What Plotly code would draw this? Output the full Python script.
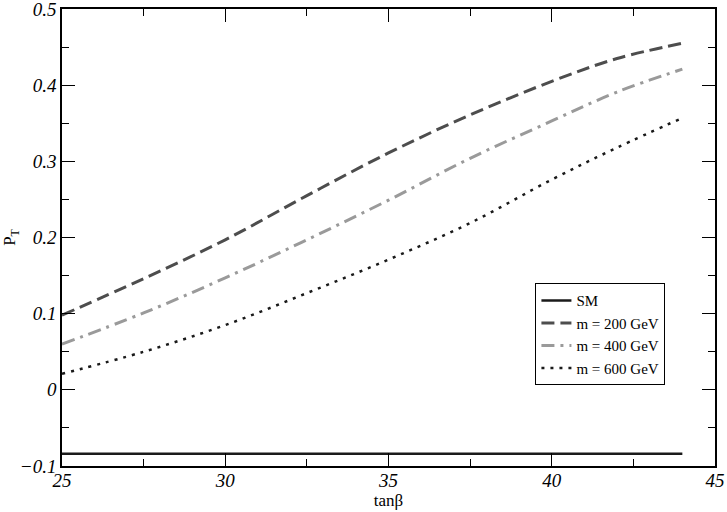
import plotly.graph_objects as go

# tan(beta) sample points
tanb = [25, 27.5, 30, 32.5, 35, 37.5, 40, 42, 44]

# P_T values
pt_sm = [-0.084] * len(tanb)
pt_m200 = [0.098, 0.146, 0.197, 0.255, 0.311, 0.361, 0.405, 0.435, 0.455]
pt_m400 = [0.060, 0.101, 0.147, 0.197, 0.249, 0.304, 0.353, 0.391, 0.421]
pt_m600 = [0.021, 0.050, 0.085, 0.127, 0.171, 0.219, 0.276, 0.318, 0.357]

series = [
    ("SM", pt_sm, "#1a1a1a", "solid", 2.5),
    ("m = 200 GeV", pt_m200, "#4d4d4d", "13px,6px", 3),
    ("m = 400 GeV", pt_m400, "#9a9a9a", "13px,6px,3px,6px", 3),
    ("m = 600 GeV", pt_m600, "#1a1a1a", "3px,6px", 2.5),
]

serif = "Liberation Serif"

fig = go.Figure()
for name, ys, color, dash, width in series:
    fig.add_trace(go.Scatter(x=tanb, y=ys, mode="lines", name=name,
                             line=dict(color=color, dash=dash, width=width, shape="spline")))

axis_style = dict(
    showline=True, linecolor="black", linewidth=1.5, mirror="ticks",
    ticks="inside", ticklen=13, tickwidth=1, tickcolor="black",
    showgrid=False, zeroline=False, automargin=False, ticklabeloverflow="allow",
    tickfont=dict(family=serif, size=19, color="black", style="italic"),
)

fig.update_xaxes(range=[25, 45], dtick=5, tick0=25, ticklabelstandoff=-4,
                 minor=dict(dtick=2.5, ticks="inside", ticklen=7, tickcolor="black"),
                 title=dict(text="tanβ", font=dict(family=serif, size=17, color="black"), standoff=0),
                 **axis_style)
fig.update_yaxes(range=[-0.1, 0.5], dtick=0.1, tick0=0,
                 minor=dict(dtick=0.05, ticks="inside", ticklen=7, tickcolor="black"),
                 title=dict(text="P<sub>T</sub>", font=dict(family=serif, size=17, color="black"), standoff=10),
                 **axis_style)

fig.update_layout(
    width=727, height=512,
    margin=dict(l=62, r=12, t=9, b=46),
    plot_bgcolor="white", paper_bgcolor="white",
    legend=dict(x=0.725, y=0.40, xanchor="left", yanchor="top",
                bordercolor="black", borderwidth=1, bgcolor="white",
                font=dict(family=serif, size=15, color="black"),
                itemwidth=30, tracegroupgap=0),
)

# page body has a default margin; remove it so the figure sits at the window origin
fig.write_html("out.html", config={"displayModeBar": False},
               post_script="document.body.style.margin='0';")
